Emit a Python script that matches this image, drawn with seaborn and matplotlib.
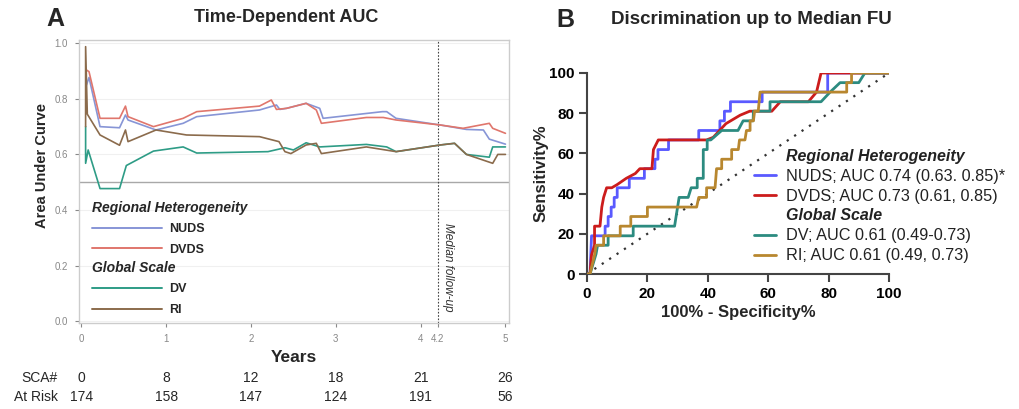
import matplotlib
matplotlib.use("Agg")
import matplotlib.pyplot as plt
from matplotlib.lines import Line2D
import pandas as pd
import seaborn as sns

# ---- panel A: time-dependent AUC (years, AUC) ----
nuds_t = [0.06, 0.09, 0.22, 0.45, 0.52, 0.55, 0.88, 1.2, 1.36, 2.1, 2.3, 2.34, 2.42, 2.65,
          2.81, 2.85, 3.55, 3.6, 3.71, 4.23, 4.54, 4.74, 4.81, 5.0]
nuds_auc = [0.85, 0.877, 0.70, 0.696, 0.742, 0.724, 0.688, 0.712, 0.736, 0.76, 0.778, 0.762,
            0.766, 0.784, 0.766, 0.73, 0.754, 0.754, 0.73, 0.706, 0.69, 0.688, 0.655, 0.637]

dvds_t = [0.06, 0.09, 0.22, 0.45, 0.52, 0.55, 0.85, 1.2, 1.36, 2.1, 2.24, 2.3, 2.42, 2.65,
          2.77, 2.83, 3.36, 3.56, 3.71, 4.23, 4.5, 4.81, 4.85, 5.0]
dvds_auc = [0.904, 0.898, 0.73, 0.73, 0.774, 0.736, 0.70, 0.73, 0.754, 0.774, 0.796, 0.762,
            0.766, 0.784, 0.76, 0.712, 0.733, 0.733, 0.724, 0.706, 0.694, 0.712, 0.694, 0.676]

dv_t = [0.05, 0.05, 0.08, 0.22, 0.45, 0.53, 0.85, 1.2, 1.36, 2.2, 2.4, 2.5, 2.65, 2.81,
        3.36, 3.6, 3.71, 4.23, 4.4, 4.54, 4.81, 4.85, 5.0]
dv_auc = [0.70, 0.568, 0.616, 0.477, 0.477, 0.56, 0.612, 0.627, 0.605, 0.61, 0.624, 0.616,
          0.642, 0.627, 0.636, 0.627, 0.61, 0.634, 0.64, 0.60, 0.59, 0.627, 0.627]

ri_t = [0.05, 0.05, 0.07, 0.22, 0.45, 0.52, 0.55, 0.88, 1.24, 2.1, 2.33, 2.4, 2.47, 2.65,
        2.77, 2.83, 3.36, 3.71, 4.23, 4.4, 4.54, 4.85, 4.91, 5.0]
ri_auc = [0.70, 0.988, 0.745, 0.67, 0.633, 0.688, 0.646, 0.688, 0.67, 0.664, 0.646, 0.61,
          0.603, 0.634, 0.64, 0.603, 0.627, 0.61, 0.634, 0.64, 0.60, 0.568, 0.60, 0.60]

median_fu = 4.2
risk_years = [0, 1, 2, 3, 4, 5]
sca_counts = [0, 8, 12, 18, 21, 26]
at_risk = [174, 158, 147, 124, 191, 56]

# ---- panel B: ROC up to median follow-up (100-spec%, sens%) ----
nuds_fpr = [0, 1, 1.5, 6, 6, 7, 7, 8, 8, 9, 9, 10, 10, 14, 14, 19, 19, 22.5, 22.5, 23.5, 23.5,
            27, 27, 37, 37, 44, 44, 45.5, 45.5, 47.5, 47.5, 58, 58, 79.7, 79.7, 100]
nuds_tpr = [0, 0, 19.0, 19.0, 23.8, 23.8, 28.6, 28.6, 33.3, 33.3, 38.1, 38.1, 42.9, 42.9, 47.6,
            47.6, 52.4, 52.4, 57.1, 57.1, 61.9, 61.9, 66.7, 66.7, 71.4, 71.4, 76.2, 76.2, 81.0,
            81.0, 85.7, 85.7, 90.5, 90.5, 100, 100]

dvds_fpr = [0, 1, 1.5, 2.5, 2.5, 4.3, 4.9, 5.5, 6.5, 8.2, 10, 13, 16, 17.5, 21.5, 22, 23.6,
            39.6, 41.8, 46, 50.7, 53.9, 61.2, 64, 73.3, 76, 77.5, 100]
dvds_tpr = [0, 0, 9.5, 14.3, 23.8, 23.8, 33.3, 38.1, 42.9, 42.9, 44.5, 47.6, 50, 52.4, 52.4,
            61.9, 66.7, 66.7, 68, 74.8, 79, 81.0, 81.0, 85.7, 85.7, 90.5, 100, 100]

dv_fpr = [0, 1, 2, 3, 3.5, 7, 7, 15.3, 15.3, 29, 29.5, 30, 30.5, 33.5, 34.5, 36.5, 36.5, 38.5,
          38.5, 39.8, 39.8, 41, 44.6, 50, 51.7, 55, 55.1, 60.6, 60.6, 77.5, 80.5, 83.8, 90, 92, 100]
dv_tpr = [0, 0, 5, 10, 14.3, 14.3, 19.0, 19.0, 23.8, 23.8, 28.6, 33.3, 38.1, 38.1, 42.9, 42.9,
          47.6, 47.6, 61.9, 61.9, 66.7, 66.7, 71.4, 71.4, 76.2, 76.2, 81.0, 81.0, 85.7, 85.7,
          90.5, 95.2, 95.2, 100, 100]

ri_fpr = [0, 1, 2.5, 3, 5.5, 5.5, 11, 11, 14.5, 14.5, 20, 20, 36.3, 37, 39.6, 39.6, 42.4, 42.9,
          44.6, 44.6, 47.9, 47.9, 50.1, 50.5, 52.3, 52.8, 54, 54, 55.1, 55.5, 56.7, 57.3, 86, 86,
          87.6, 87.6, 100]
ri_tpr = [0, 0, 9.5, 14.3, 14.3, 19.0, 19.0, 23.8, 23.8, 28.6, 28.6, 33.3, 33.3, 38.1, 38.1,
          42.9, 42.9, 52.4, 52.4, 57.1, 57.1, 61.9, 61.9, 66.7, 66.7, 71.4, 71.4, 76.2, 76.2,
          81.0, 81.0, 90.5, 90.5, 95.2, 95.2, 100, 100]

auc_labels = ["NUDS; AUC 0.74 (0.63. 0.85)*", "DVDS; AUC 0.73 (0.61, 0.85)",
              "DV; AUC 0.61 (0.49-0.73)", "RI; AUC 0.61 (0.49, 0.73)"]

colors_a = {"NUDS": "#8795d6", "DVDS": "#e0766c", "DV": "#2e9c86", "RI": "#8b6b4c"}
colors_b = {"NUDS": "#5a5aff", "DVDS": "#cc1c1c", "DV": "#2c8b80", "RI": "#b8872f"}


def long_df(parts, xname, yname):
    frames = []
    for name, xs, ys in parts:
        frames.append(pd.DataFrame({xname: xs, yname: ys, "marker": name}))
    return pd.concat(frames, ignore_index=True)


df_a = long_df([("NUDS", nuds_t, nuds_auc), ("DVDS", dvds_t, dvds_auc),
                ("DV", dv_t, dv_auc), ("RI", ri_t, ri_auc)], "year", "auc")
df_b = long_df([("NUDS", nuds_fpr, nuds_tpr), ("DVDS", dvds_fpr, dvds_tpr),
                ("DV", dv_fpr, dv_tpr), ("RI", ri_fpr, ri_tpr)], "fpr", "tpr")

sns.set_theme(style="white")
plt.rcParams['font.family'] = ['Liberation Sans', 'DejaVu Sans']

fig = plt.figure(figsize=(10.2, 4.09), dpi=100)
W, H = 1020, 409
axA = fig.add_axes([79 / W, (H - 323) / H, 430 / W, 283 / H])
axB = fig.add_axes([587 / W, (H - 274) / H, 302 / W, 201 / H])

# ---------------- panel A ----------------
axA.axhline(0.5, color="#a8a8a8", lw=1.0, zorder=1)
axA.axvline(median_fu, color="#444444", lw=0.8, ls=(0, (1.5, 1.5)), zorder=1)
sns.lineplot(data=df_a, x="year", y="auc", hue="marker", palette=colors_a, sort=False,
             estimator=None, lw=1.2, legend=False, ax=axA, zorder=3)
axA.set_xlim(-0.028, 5.042)
axA.set_ylim(-0.007, 1.012)
axA.set_xticks([0, 1, 2, 3, 4, median_fu, 5])
axA.set_xticklabels(["0", "1", "2", "3", "4", "4.2", "5"])
axA.set_yticks([0, 0.2, 0.4, 0.6, 0.8, 1.0])
axA.set_yticklabels(["0.0", "0.2", "0.4", "0.6", "0.8", "1.0"])
axA.tick_params(labelsize=7, colors="#888888", length=3, width=0.8, direction="out",
                left=True, bottom=True, pad=5)
axA.yaxis.grid(True, color="#f0f0f0", lw=0.8)
axA.set_axisbelow(True)
for s in axA.spines.values():
    s.set_color("#cccccc")
    s.set_linewidth(1.0)
axA.set_xlabel("Years", fontsize=12.5, fontweight="bold", labelpad=4)
axA.set_ylabel("")
fig.text(42 / W, 1 - 166 / H, "Area Under Curve", rotation=90, fontsize=10.5,
         fontweight="bold", ha="center", va="center")
axA.text(median_fu + 0.05, 0.352, "Median follow-up", rotation=270, fontsize=8.5,
         style="italic", color="#333333", ha="left", va="top")

leg_kw = dict(loc="upper left", frameon=False, handlelength=5.6, handletextpad=0.6,
              labelspacing=0.68, borderaxespad=0, alignment="left",
              prop={"size": 9, "weight": "bold"},
              title_fontproperties={"size": 10, "weight": "bold", "style": "italic"})
leg1 = axA.legend(handles=[Line2D([], [], color=colors_a[k], lw=1.4) for k in ["NUDS", "DVDS"]],
                  labels=["NUDS", "DVDS"], title="Regional Heterogeneity",
                  bbox_to_anchor=(0.018, 0.45), **leg_kw)
axA.add_artist(leg1)
axA.legend(handles=[Line2D([], [], color=colors_a[k], lw=1.4) for k in ["DV", "RI"]],
           labels=["DV", "RI"], title="Global Scale",
           bbox_to_anchor=(0.018, 0.237), **leg_kw)

# number at risk table
tr = axA.get_xaxis_transform()
axA.text(-0.28, -0.194, "SCA#", transform=tr, fontsize=10, ha="right", va="center")
axA.text(-0.28, -0.262, "At Risk", transform=tr, fontsize=10, ha="right", va="center")
for yr, n_sca, n_risk in zip(risk_years, sca_counts, at_risk):
    axA.text(yr, -0.194, str(n_sca), transform=tr, fontsize=10, ha="center", va="center")
    axA.text(yr, -0.262, str(n_risk), transform=tr, fontsize=10, ha="center", va="center")

fig.text(286 / W, 1 - 18 / H, "Time-Dependent AUC", fontsize=13, fontweight="bold",
         ha="center", va="center")
fig.text(55 / W, 1 - 19 / H, "A", fontsize=18, fontweight="bold", ha="center", va="center")

# ---------------- panel B ----------------
axB.plot([0, 100], [0, 100], color="#333333", lw=1.6, ls=(0, (1, 3)), zorder=1)
sns.lineplot(data=df_b, x="fpr", y="tpr", hue="marker", palette=colors_b, sort=False,
             estimator=None, lw=2.0, legend=False, ax=axB, zorder=3)
axB.set_xlim(0, 100)
axB.set_ylim(0, 100)
axB.set_xticks([0, 20, 40, 60, 80, 100])
axB.set_yticks([0, 20, 40, 60, 80, 100])
axB.tick_params(labelsize=11, colors="#444444", labelcolor="black", length=6, width=1.5,
                direction="out", left=True, bottom=True, pad=3)
for lab in axB.get_xticklabels() + axB.get_yticklabels():
    lab.set_fontweight("bold")
axB.spines["top"].set_visible(False)
axB.spines["right"].set_visible(False)
for side in ["left", "bottom"]:
    axB.spines[side].set_color("#444444")
    axB.spines[side].set_linewidth(1.5)
axB.set_xlabel("100% - Specificity%", fontsize=12, fontweight="bold", labelpad=3)
axB.set_ylabel("")
fig.text(541 / W, 1 - 173 / H, "Sensitivity%", rotation=90, fontsize=12, fontweight="bold",
         ha="center", va="center")

blank = Line2D([], [], color="none")
handles_b = [blank, Line2D([], [], color=colors_b["NUDS"], lw=2),
             Line2D([], [], color=colors_b["DVDS"], lw=2), blank,
             Line2D([], [], color=colors_b["DV"], lw=2), Line2D([], [], color=colors_b["RI"], lw=2)]
labels_b = ["Regional Heterogeneity", auc_labels[0], auc_labels[1], "Global Scale",
            auc_labels[2], auc_labels[3]]
legB = axB.legend(handles=handles_b, labels=labels_b, loc="upper left",
                  bbox_to_anchor=(0.533, 0.655), frameon=False, handlelength=1.3,
                  handletextpad=0.65, labelspacing=0.3, borderaxespad=0, prop={"size": 11.7})
for i in (0, 3):
    legB.get_texts()[i].set_fontweight("bold")
    legB.get_texts()[i].set_fontstyle("italic")
    legB.get_texts()[i].set_fontsize(11.5)
for t in legB.get_texts():
    t.set_color("#222222")

fig.text(751 / W, 1 - 20 / H, "Discrimination up to Median FU", fontsize=13.5,
         fontweight="bold", ha="center", va="center")
fig.text(565 / W, 1 - 20 / H, "B", fontsize=18, fontweight="bold", ha="center", va="center")

fig.savefig("out.png", dpi=100)
